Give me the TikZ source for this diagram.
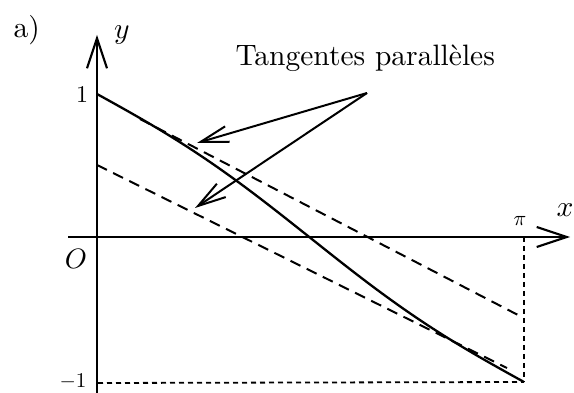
\documentclass[tikz,border=0pt]{standalone}
\usetikzlibrary{arrows.meta}
\tikzset{
  axis/.style={line width=2.1pt, -{Straight Barb[length=30pt,width=20pt,line width=2.1pt]}},
  pointer/.style={line width=2pt, -{Straight Barb[length=28pt,width=16pt,line width=2pt]}},
  curveline/.style={line width=2.3pt},
  tangentline/.style={line width=2pt, dash pattern=on 11pt off 7pt},
  guide/.style={line width=1.8pt, dash pattern=on 5pt off 4pt},
  big/.style={inner sep=0pt, scale=2.95},
  mid/.style={inner sep=0pt, scale=2.4},
  small/.style={inner sep=0pt, scale=2.1},
}
\begin{document}
\begin{tikzpicture}[x=1pt,y=-1pt]
\useasboundingbox (0,0) rectangle (574,393);
% key points
\coordinate (O) at (97,237);
\coordinate (yb) at (97,393);
\coordinate (yt) at (97,35);
\coordinate (xl) at (68,237);
\coordinate (xr) at (570,237);
\coordinate (A) at (97,94);
\coordinate (B) at (524,382);
\coordinate (Pi) at (524,237);
\coordinate (M) at (98,383);
\coordinate (t1a) at (140,119);
\coordinate (t1b) at (518,315);
\coordinate (t2a) at (97,165);
\coordinate (t2b) at (507,368);
\coordinate (tail) at (367,93);
\coordinate (tip1) at (197,143);
\coordinate (tip2) at (195,208);
% axes
\draw[axis] (yb) -- (yt);
\draw[axis] (xl) -- (xr);
% guides
\draw[guide] (Pi) -- (B);
\draw[guide] (M) -- (B);
% tangents
\draw[tangentline] (t1a) -- (t1b);
\draw[tangentline] (t2a) -- (t2b);
% curve
\draw[curveline] plot[domain=0:1, samples=100] ({97+427*\x},{94+288*(\x-0.18*sin(360*\x)/6.2832)});
% pointers
\draw[pointer] (tail) -- (tip1);
\draw[pointer] (tail) -- (tip2);
% labels
\node[big, anchor=base west] (lbla) at (13,38) {a)};
\node[big] (lbly) at (122,35) {$y$};
\node[big] (lblx) at (565,210) {$x$};
\node[big, anchor=base west] (lblt) at (235,66) {Tangentes parallèles};
\node[mid] (lbl1) at (82,95) {1};
\node[inner sep=0pt, scale=2.8] (lblO) at (76,259) {$O$};
\node[small] (lblm1) at (73,382) {$-1$};
\node[small] (lblpi) at (520,221) {$\pi$};
\end{tikzpicture}
\end{document}
